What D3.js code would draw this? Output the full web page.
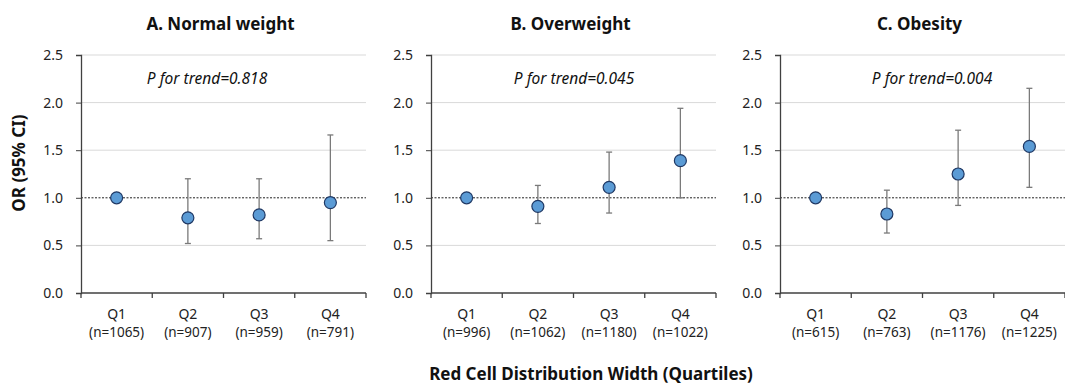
<!DOCTYPE html>
<html><head><meta charset="utf-8">
<script src="https://cdn.jsdelivr.net/npm/d3@7"></script>
<style>body{margin:0;background:#fff}svg{display:block}</style>
</head><body>
<script>
const panelTitles = ["A. Normal weight", "B. Overweight", "C. Obesity"];
const pTrend = ["P for trend=0.818", "P for trend=0.045", "P for trend=0.004"];
const quartiles = ["Q1", "Q2", "Q3", "Q4"];
const counts = [
  ["(n=1065)", "(n=907)", "(n=959)", "(n=791)"],
  ["(n=996)", "(n=1062)", "(n=1180)", "(n=1022)"],
  ["(n=615)", "(n=763)", "(n=1176)", "(n=1225)"]
];
const orValues = [
  [1.00, 0.79, 0.82, 0.95],
  [1.00, 0.91, 1.11, 1.39],
  [1.00, 0.83, 1.25, 1.54]
];
const ciLower = [
  [1.00, 0.52, 0.57, 0.55],
  [1.00, 0.73, 0.84, 1.00],
  [1.00, 0.63, 0.92, 1.11]
];
const ciUpper = [
  [1.00, 1.20, 1.20, 1.66],
  [1.00, 1.13, 1.48, 1.94],
  [1.00, 1.08, 1.71, 2.15]
];
const yTicks = [0, 0.5, 1.0, 1.5, 2.0, 2.5];
const yLabel = "OR (95% CI)";
const xLabel = "Red Cell Distribution Width (Quartiles)";

const W = 1065, H = 387;
const font = "'Noto Sans', 'Open Sans', sans-serif";
const svg = d3.select("body").append("svg").attr("width", W).attr("height", H)
  .style("font-family", font);

const panelLeft = [81, 431, 780];
const panelW = 285;
const pOffset = [126, 143, 152];
const y = d3.scaleLinear().domain([0, 2.5]).range([293, 55]);

panelTitles.forEach((title, i) => {
  const g = svg.append("g").attr("transform", `translate(${panelLeft[i]},0)`);
  const x = d3.scaleBand().domain(quartiles).range([0, panelW]);

  g.selectAll("line.grid").data(yTicks.filter(t => t !== 0 && t !== 1))
    .enter().append("line")
    .attr("x1", 0).attr("x2", panelW)
    .attr("y1", d => y(d)).attr("y2", d => y(d))
    .attr("stroke", "#d9d9d9").attr("stroke-width", 1);

  g.append("line").attr("x1", 0).attr("x2", panelW)
    .attr("y1", y(1)).attr("y2", y(1))
    .attr("stroke", "#222").attr("stroke-width", 1).attr("stroke-dasharray", "2,1.5");

  const ya = g.append("g").call(d3.axisLeft(y).tickValues(yTicks).tickFormat(d3.format(".1f")).tickSize(5).tickPadding(13));
  ya.select(".domain").attr("stroke", "#404040").attr("stroke-width", 1.3);
  ya.selectAll(".tick line").attr("stroke", "#404040");
  ya.selectAll("text").attr("font-size", 14).attr("fill", "#222").attr("font-family", font);

  const xa = g.append("g").attr("transform", `translate(0,${y(0)})`);
  xa.append("line").attr("x1", 0).attr("x2", panelW).attr("stroke", "#404040").attr("stroke-width", 1.3);
  const bounds = d3.range(quartiles.length + 1).map(k => k * x.step());
  xa.selectAll("line.tk").data(bounds).enter().append("line")
    .attr("x1", d => d).attr("x2", d => d).attr("y1", 0).attr("y2", 5)
    .attr("stroke", "#404040").attr("stroke-width", 1.3);
  xa.selectAll("text.q").data(quartiles).enter().append("text")
    .attr("x", d => x(d) + x.bandwidth() / 2).attr("y", 26)
    .attr("text-anchor", "middle").attr("font-size", 14).attr("fill", "#222").text(d => d);
  xa.selectAll("text.n").data(counts[i]).enter().append("text")
    .attr("x", (d, k) => x(quartiles[k]) + x.bandwidth() / 2).attr("y", 44)
    .attr("text-anchor", "middle").attr("font-size", 13.5).attr("fill", "#222").text(d => d);

  const data = quartiles.map((q, k) => ({q, v: orValues[i][k], lo: ciLower[i][k], hi: ciUpper[i][k]}));
  const eb = data.filter(d => d.hi > d.lo);
  const cx = d => x(d.q) + x.bandwidth() / 2;
  g.selectAll("line.eb").data(eb).enter().append("line")
    .attr("x1", cx).attr("x2", cx).attr("y1", d => y(d.lo)).attr("y2", d => y(d.hi))
    .attr("stroke", "#7a7a7a").attr("stroke-width", 1.3);
  ["lo", "hi"].forEach(key => {
    g.selectAll("line.cap" + key).data(eb).enter().append("line")
      .attr("x1", d => cx(d) - 3).attr("x2", d => cx(d) + 3)
      .attr("y1", d => y(d[key])).attr("y2", d => y(d[key]))
      .attr("stroke", "#7a7a7a").attr("stroke-width", 1.3);
  });

  g.selectAll("circle").data(data).enter().append("circle")
    .attr("cx", cx).attr("cy", d => y(d.v)).attr("r", 6)
    .attr("fill", "#5b9bd5").attr("stroke", "#1f3864").attr("stroke-width", 1.2);

  svg.append("text").attr("x", panelLeft[i] + panelW / 2 - 3).attr("y", 30)
    .attr("text-anchor", "middle").attr("font-size", 17).attr("font-weight", "bold")
    .attr("fill", "#111").text(title);

  g.append("text").attr("x", pOffset[i]).attr("y", 84).attr("text-anchor", "middle")
    .attr("font-size", 15.5).attr("font-style", "italic").attr("fill", "#111").text(pTrend[i]);
});

svg.append("text").attr("transform", "translate(25,163) rotate(-90)")
  .attr("text-anchor", "middle").attr("font-size", 17).attr("font-weight", "bold")
  .attr("fill", "#111").text(yLabel);

svg.append("text").attr("x", 591).attr("y", 380).attr("text-anchor", "middle")
  .attr("font-size", 17).attr("font-weight", "bold").attr("fill", "#111").text(xLabel);
</script>
</body></html>
